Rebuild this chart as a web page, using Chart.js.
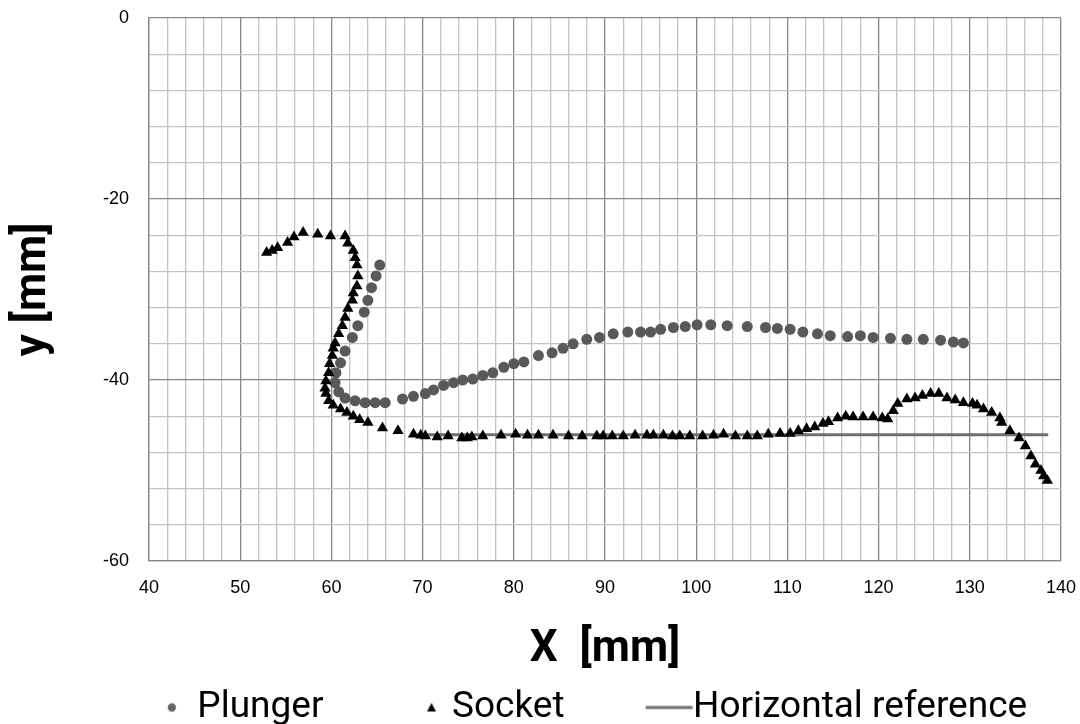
<!DOCTYPE html>
<html>
<head>
<meta charset="utf-8">
<script src="https://cdn.jsdelivr.net/npm/chart.js@4.4.1/dist/chart.umd.min.js"></script>
<style>
  html, body { margin: 0; padding: 0; background: #fff; }
  #wrap { width: 1080px; height: 724px; }
</style>
</head>
<body>
<div id="wrap"><canvas id="graphSwan"></canvas></div>
<script>
// Plunger (gray circles)
const plungerX = [65.3, 64.9, 64.4, 64.0, 63.6, 62.9, 62.3, 61.5, 61.0, 60.5, 60.4, 60.8, 61.5, 62.6, 63.7, 64.8, 65.9,
  67.8, 69.0, 70.3, 71.2, 72.3, 73.4, 74.4, 75.5, 76.6, 77.7, 78.9, 80.0, 81.1, 82.7, 84.2, 85.4, 86.5, 88.0, 89.4,
  90.9, 92.5, 93.9, 95.0, 96.1, 97.5, 98.8, 100.1, 101.6, 103.4, 105.6, 107.6, 108.9, 110.3, 111.7, 113.3, 114.7,
  116.6, 118.0, 119.4, 121.3, 123.1, 124.9, 126.8, 128.2, 129.3];
const plungerY = [-27.3, -28.5, -29.8, -31.2, -32.5, -34.0, -35.3, -36.8, -38.1, -39.2, -40.3, -41.3, -42.0, -42.3, -42.5, -42.5, -42.5,
  -42.1, -41.8, -41.5, -41.1, -40.6, -40.3, -40.0, -39.9, -39.5, -39.2, -38.6, -38.2, -38.0, -37.3, -37.0, -36.5, -36.0, -35.5, -35.3,
  -34.9, -34.7, -34.7, -34.7, -34.4, -34.2, -34.1, -33.9, -33.9, -34.0, -34.1, -34.2, -34.3, -34.4, -34.7, -34.9, -35.1,
  -35.2, -35.1, -35.3, -35.4, -35.5, -35.5, -35.6, -35.8, -35.9];

// Socket (black triangles)
const socketX = [52.9, 53.5, 54.1, 55.2, 55.9, 56.9, 58.5, 59.9, 61.5, 61.8, 62.4, 62.6, 62.8, 62.9, 62.8, 62.4, 62.3,
  61.8, 61.5, 61.2, 60.8, 60.4, 60.2, 60.1, 59.8, 59.7, 59.4, 59.3, 59.4, 59.7, 60.2, 61.0, 61.7, 62.4, 63.1, 64.0,
  65.6, 67.3, 69.0, 69.8, 70.3, 71.6, 72.8, 74.3, 74.9, 75.4, 76.6, 78.6, 80.2, 81.5, 82.7, 84.3, 86.0, 87.5, 89.1,
  89.8, 90.8, 92.0, 93.3, 94.6, 95.3, 96.4, 97.4, 98.2, 99.3, 100.7, 101.9, 103.0, 104.3, 105.6, 106.7, 107.9, 109.2,
  110.3, 111.2, 112.1, 113.0, 113.9, 114.5, 115.5, 116.4, 117.2, 118.3, 119.4, 120.4, 121.0, 121.6, 122.1, 123.1,
  124.0, 124.8, 125.7, 126.6, 127.5, 128.4, 129.3, 130.3, 130.8, 131.5, 132.4, 133.3, 133.5, 134.4, 135.4, 136.1,
  136.7, 137.2, 137.8, 138.1, 138.5];
const socketY = [-25.9, -25.7, -25.4, -24.8, -24.2, -23.7, -23.9, -24.1, -24.1, -24.9, -25.7, -26.5, -27.3, -28.5, -29.6, -30.4, -31.2,
  -32.1, -33.1, -34.0, -34.9, -35.9, -36.5, -37.3, -38.2, -39.2, -40.1, -40.9, -41.5, -42.3, -42.8, -43.2, -43.6, -44.0, -44.4, -44.7,
  -45.3, -45.6, -46.0, -46.1, -46.2, -46.3, -46.2, -46.4, -46.4, -46.3, -46.2, -46.1, -46.0, -46.1, -46.1, -46.1, -46.2, -46.2, -46.2,
  -46.2, -46.2, -46.2, -46.1, -46.1, -46.1, -46.1, -46.2, -46.2, -46.2, -46.2, -46.1, -46.0, -46.2, -46.2, -46.2, -46.0, -45.9,
  -45.9, -45.6, -45.4, -45.2, -44.8, -44.6, -44.2, -44.0, -44.1, -44.1, -44.1, -44.2, -44.3, -43.4, -42.6, -42.1,
  -42.0, -41.7, -41.5, -41.5, -42.0, -42.2, -42.5, -42.6, -42.8, -43.2, -43.6, -44.2, -44.7, -45.6, -46.4, -47.3,
  -48.4, -49.3, -50.0, -50.6, -51.1];

// Horizontal reference
const refX = [68.7, 138.6];
const refY = [-46.05, -46.05];

const seriesNames = ['Plunger', 'Socket', 'Horizontal reference'];

function toPts(xs, ys) {
  return xs.map((x, i) => ({ x: x, y: ys[i] }));
}

const fontText = "Roboto, 'Liberation Sans', sans-serif";
const fontTicks = "'Liberation Sans', sans-serif";
const gridMinor = '#c3c3c3';
const gridMajor = '#868686';

// marcadores de la leyenda (canvas como pointStyle)
const legendBox = 100;
function legendMarker(kind) {
  const ext = 30;
  const c = document.createElement('canvas');
  c.width = legendBox + ext * 2;
  c.height = 12;
  const g = c.getContext('2d');
  const cy = 6;
  if (kind === 'circle') {
    g.fillStyle = '#666666';
    g.beginPath();
    g.arc(ext + legendBox - 7, cy, 4.2, 0, Math.PI * 2);
    g.fill();
  } else if (kind === 'triangle') {
    const cx = ext + legendBox - 2;
    g.fillStyle = '#000';
    g.beginPath();
    g.moveTo(cx, cy - 4.5);
    g.lineTo(cx + 4.5, cy + 4);
    g.lineTo(cx - 4.5, cy + 4);
    g.closePath();
    g.fill();
  } else {
    g.strokeStyle = '#6e6e6e';
    g.lineWidth = 3;
    g.beginPath();
    g.moveTo(ext + legendBox - 29, cy);
    g.lineTo(ext + legendBox + 18, cy);
    g.stroke();
  }
  return c;
}
const legendMarkers = [legendMarker('circle'), legendMarker('triangle'), legendMarker('line')];

const graphSwan = document.querySelector('#graphSwan');
const dataSwan = {
  datasets: [{
    label: seriesNames[0],
    data: toPts(plungerX, plungerY),
    pointStyle: 'circle',
    pointRadius: 5.5,
    pointBackgroundColor: '#595959',
    pointBorderWidth: 0,
    showLine: false,
    order: 2
  }, {
    label: seriesNames[1],
    data: toPts(socketX, socketY),
    pointStyle: 'triangle',
    pointRadius: 6.5,
    pointBackgroundColor: '#000000',
    pointBorderWidth: 0,
    showLine: false,
    order: 1
  }, {
    label: seriesNames[2],
    data: toPts(refX, refY),
    showLine: true,
    borderColor: '#6e6e6e',
    borderWidth: 3,
    pointRadius: 0,
    order: 3
  }]
};

const configSwan = {
  type: 'scatter',
  data: dataSwan,
  options: {
    responsive: false,
    animation: false,
    layout: { padding: { left: 45, right: 19, top: 18, bottom: -12 } },
    plugins: {
      tooltip: { enabled: false },
      legend: {
        position: 'bottom',
        labels: {
          usePointStyle: true,
          pointStyleWidth: legendBox,
          boxHeight: 10,
          padding: 10,
          color: '#000',
          font: { family: fontText, size: 37 },
          generateLabels: function(chart) {
            return seriesNames.map((name, i) => ({
              text: name,
              pointStyle: legendMarkers[i],
              fillStyle: '#000',
              strokeStyle: '#000',
              lineWidth: 0,
              hidden: false,
              datasetIndex: i
            }));
          }
        }
      }
    },
    scales: {
      x: {
        type: 'linear',
        min: 40,
        max: 140,
        afterFit: function(scale) {
          scale.height = 118;
          scale.paddingLeft = 0;
          scale.paddingRight = 0;
        },
        ticks: {
          stepSize: 2,
          autoSkip: false,
          maxRotation: 0,
          padding: 16,
          color: '#000',
          font: { family: fontTicks, size: 18 },
          callback: v => (v % 10 === 0 ? v : '')
        },
        grid: {
          drawTicks: false,
          lineWidth: 1.3,
          color: ctx => (ctx.tick && ctx.tick.value % 10 === 0 ? gridMajor : gridMinor)
        },
        border: { color: gridMajor, width: 1.3 },
        title: {
          display: true,
          text: 'X  [mm]',
          color: '#000',
          padding: { top: 0, bottom: 3 },
          font: { family: fontText, size: 44, weight: 'bold' }
        }
      },
      y: {
        type: 'linear',
        min: -60,
        max: 0,
        afterFit: function(scale) {
          scale.width = 104;
          scale.paddingTop = 0;
          scale.paddingBottom = 0;
        },
        ticks: {
          stepSize: 4,
          autoSkip: false,
          padding: 20,
          color: '#000',
          font: { family: fontTicks, size: 18 },
          callback: v => (v % 20 === 0 ? (v === 0 ? '0' : v) : '')
        },
        grid: {
          drawTicks: false,
          lineWidth: 1.3,
          color: ctx => (ctx.tick && ctx.tick.value % 20 === 0 ? gridMajor : gridMinor)
        },
        border: { color: gridMajor, width: 1.3 },
        title: {
          display: true,
          text: 'y [mm]',
          color: '#000',
          padding: { top: -37, bottom: 0 },
          font: { family: fontText, size: 44, weight: 'bold' }
        }
      }
    }
  }
};

graphSwan.width = 1080;
graphSwan.height = 724;
new Chart(graphSwan, configSwan);
</script>
</body>
</html>
